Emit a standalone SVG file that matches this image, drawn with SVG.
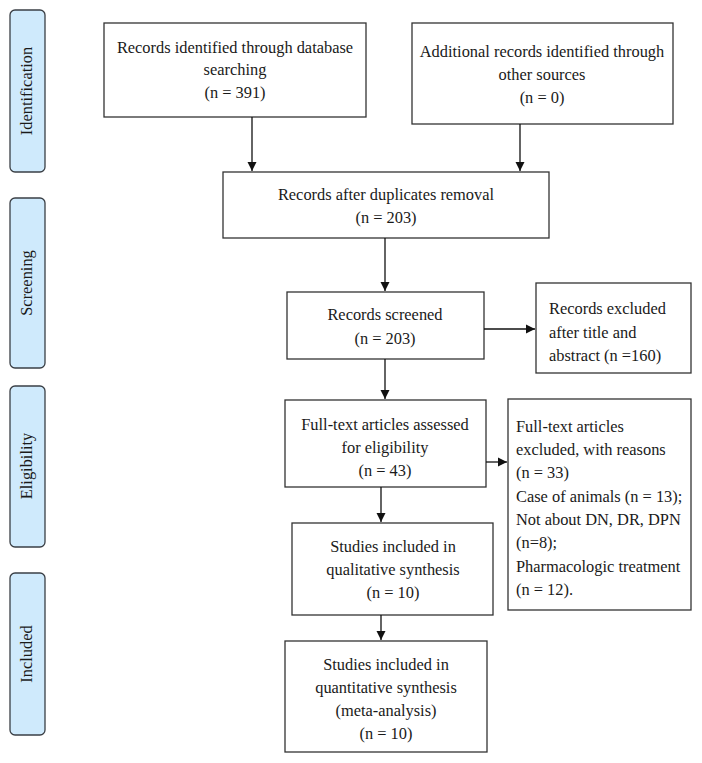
<svg xmlns="http://www.w3.org/2000/svg" width="702" height="763" viewBox="0 0 702 763">
<style>
.box{fill:#fff;stroke:#333;stroke-width:1.3}
.side{fill:#cfeafc;stroke:#3a3f45;stroke-width:1.3}
text{font-family:"Liberation Serif","Times New Roman",serif;font-size:16.4px;fill:#1a1a1a}
.c{text-anchor:middle}
.edge{stroke:#111;stroke-width:1.3;fill:none}
</style>
<defs>
<marker id="ah" markerWidth="10" markerHeight="10" refX="9" refY="5" orient="auto" markerUnits="userSpaceOnUse">
<path d="M0,0.5 L9,5 L0,9.5 Z" fill="#111"/>
</marker>
</defs>
<rect width="702" height="763" fill="#fff"/>

<g id="stage-identification">
<rect class="side" x="10" y="10" width="35" height="162" rx="5"/>
<text class="c" transform="translate(32,91) rotate(-90)">Identification</text>
</g>
<g id="stage-screening">
<rect class="side" x="10" y="198" width="35" height="170" rx="5"/>
<text class="c" transform="translate(32,283) rotate(-90)">Screening</text>
</g>
<g id="stage-eligibility">
<rect class="side" x="10" y="386" width="35" height="161" rx="5"/>
<text class="c" transform="translate(32,466) rotate(-90)">Eligibility</text>
</g>
<g id="stage-included">
<rect class="side" x="10" y="573" width="35" height="162" rx="5"/>
<text class="c" transform="translate(32,654) rotate(-90)">Included</text>
</g>

<g id="n-db">
<rect class="box" x="104" y="23" width="262" height="94"/>
<text class="c" x="235" y="53">Records identified through database</text>
<text class="c" x="235" y="75">searching</text>
<text class="c" x="235" y="98">(n = 391)</text>
</g>
<g id="n-other">
<rect class="box" x="412" y="23" width="261" height="101"/>
<text class="c" x="542" y="57">Additional records identified through</text>
<text class="c" x="542" y="80">other sources</text>
<text class="c" x="542" y="103">(n = 0)</text>
</g>
<g id="n-dup">
<rect class="box" x="223" y="172" width="326" height="66"/>
<text class="c" x="386" y="200">Records after duplicates removal</text>
<text class="c" x="386" y="223">(n = 203)</text>
</g>
<g id="n-screened">
<rect class="box" x="287" y="292" width="197" height="67"/>
<text class="c" x="385" y="320">Records screened</text>
<text class="c" x="385" y="344">(n = 203)</text>
</g>
<g id="n-excl1">
<rect class="box" x="536" y="283" width="155" height="90"/>
<text x="549" y="314">Records excluded</text>
<text x="549" y="338">after title and</text>
<text x="549" y="361">abstract (n =160)</text>
</g>
<g id="n-full">
<rect class="box" x="285" y="400" width="201" height="87"/>
<text class="c" x="385" y="430">Full-text articles assessed</text>
<text class="c" x="385" y="453">for eligibility</text>
<text class="c" x="385" y="476">(n = 43)</text>
</g>
<g id="n-excl2">
<rect class="box" x="508" y="399" width="183" height="211"/>
<text x="516" y="432">Full-text articles</text>
<text x="516" y="455">excluded, with reasons</text>
<text x="516" y="478">(n = 33)</text>
<text x="516" y="502">Case of animals (n = 13);</text>
<text x="516" y="525">Not about DN, DR, DPN</text>
<text x="516" y="548">(n=8);</text>
<text x="516" y="572">Pharmacologic treatment</text>
<text x="516" y="595">(n = 12).</text>
</g>
<g id="n-qual">
<rect class="box" x="292" y="523" width="201" height="92"/>
<text class="c" x="393" y="552">Studies included in</text>
<text class="c" x="393" y="575">qualitative synthesis</text>
<text class="c" x="393" y="598">(n = 10)</text>
</g>
<g id="n-quant">
<rect class="box" x="285" y="641" width="202" height="111"/>
<text class="c" x="386" y="670">Studies included in</text>
<text class="c" x="386" y="693">quantitative synthesis</text>
<text class="c" x="386" y="716">(meta-analysis)</text>
<text class="c" x="386" y="739">(n = 10)</text>
</g>

<g id="connectors">
<line class="edge" x1="252" y1="117" x2="252" y2="171" marker-end="url(#ah)"/>
<line class="edge" x1="520" y1="124" x2="520" y2="171" marker-end="url(#ah)"/>
<line class="edge" x1="385" y1="238" x2="385" y2="291" marker-end="url(#ah)"/>
<line class="edge" x1="484" y1="329" x2="535" y2="329" marker-end="url(#ah)"/>
<line class="edge" x1="385" y1="359" x2="385" y2="399" marker-end="url(#ah)"/>
<line class="edge" x1="486" y1="462" x2="507" y2="462" marker-end="url(#ah)"/>
<line class="edge" x1="381" y1="487" x2="381" y2="522" marker-end="url(#ah)"/>
<line class="edge" x1="381" y1="615" x2="381" y2="640" marker-end="url(#ah)"/>
</g>
</svg>
